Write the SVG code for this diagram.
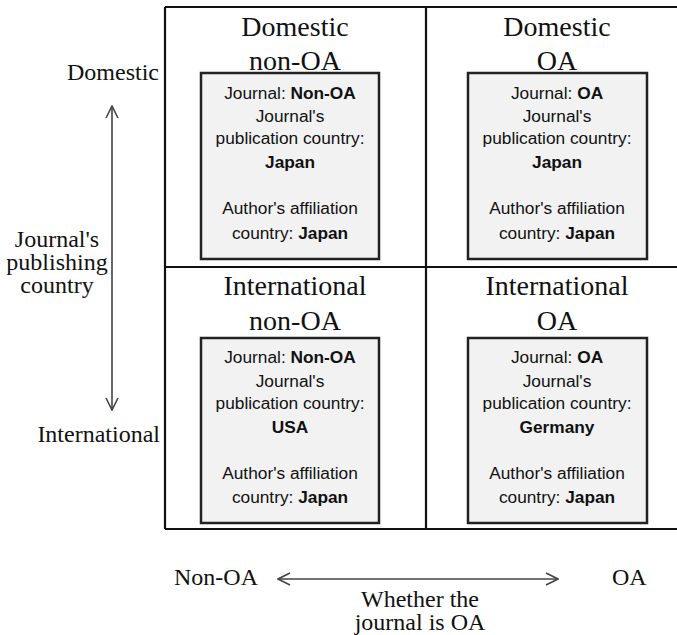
<svg xmlns="http://www.w3.org/2000/svg" width="677" height="635" viewBox="0 0 677 635">
<defs>
<style>
.grid{stroke:#111;stroke-width:2.2;fill:none}
.box{fill:#f2f2f2;stroke:#222;stroke-width:2.5}
.serif{font-family:"Liberation Serif","Times New Roman",serif;fill:#111}
.cell{font-size:28px;text-anchor:middle}
.axis{font-size:24px}
.bt{font-family:"Liberation Sans",Arial,sans-serif;font-size:17.3px;fill:#111;text-anchor:middle}
.b{font-weight:bold}
.arr{stroke:#444;stroke-width:1.6;fill:none}
</style>
<marker id="ah" viewBox="0 0 14 14" refX="13" refY="7" markerWidth="14" markerHeight="14" markerUnits="userSpaceOnUse" orient="auto-start-reverse">
<path d="M1,1 L13,7 L1,13" fill="none" stroke="#444" stroke-width="1.6"/>
</marker>
</defs>
<rect width="677" height="635" fill="#fff"/>
<g id="grid">
<path class="grid" d="M165,7 H677 M165,7 V529 M426,7 V529 M165,267 H677 M165,529 H677"/>
</g>
<g id="connectors">
<line class="arr" x1="112" y1="106" x2="112" y2="410" marker-start="url(#ah)" marker-end="url(#ah)"/>
<line class="arr" x1="278" y1="579" x2="558" y2="579" marker-start="url(#ah)" marker-end="url(#ah)"/>
</g>
<g id="axis-labels" class="serif axis">
<text x="159" y="80" text-anchor="end">Domestic</text>
<text x="160" y="442" text-anchor="end">International</text>
<text x="57" y="247" text-anchor="middle">Journal's</text>
<text x="57" y="270" text-anchor="middle">publishing</text>
<text x="57" y="293" text-anchor="middle">country</text>
<text x="174" y="585">Non-OA</text>
<text x="612" y="585">OA</text>
<text x="420" y="607" text-anchor="middle">Whether the</text>
<text x="420" y="630" text-anchor="middle">journal is OA</text>
</g>
<g id="domestic-non-oa">
<text class="serif cell" x="295" y="36">Domestic</text>
<text class="serif cell" x="295" y="70">non-OA</text>
<rect class="box" x="201" y="73" width="178" height="186"/>
<text class="bt" x="290" y="99">Journal: <tspan class="b">Non-OA</tspan></text>
<text class="bt" x="290" y="122">Journal's</text>
<text class="bt" x="290" y="144">publication country:</text>
<text class="bt b" x="290" y="168">Japan</text>
<text class="bt" x="290" y="214">Author's affiliation</text>
<text class="bt" x="290" y="239">country: <tspan class="b">Japan</tspan></text>
</g>
<g id="domestic-oa">
<text class="serif cell" x="557" y="36">Domestic</text>
<text class="serif cell" x="557" y="70">OA</text>
<rect class="box" x="468" y="73" width="179" height="186"/>
<text class="bt" x="557" y="99">Journal: <tspan class="b">OA</tspan></text>
<text class="bt" x="557" y="122">Journal's</text>
<text class="bt" x="557" y="144">publication country:</text>
<text class="bt b" x="557" y="168">Japan</text>
<text class="bt" x="557" y="214">Author's affiliation</text>
<text class="bt" x="557" y="239">country: <tspan class="b">Japan</tspan></text>
</g>
<g id="international-non-oa">
<text class="serif cell" x="295" y="295">International</text>
<text class="serif cell" x="295" y="330">non-OA</text>
<rect class="box" x="201" y="338" width="178" height="185"/>
<text class="bt" x="290" y="363">Journal: <tspan class="b">Non-OA</tspan></text>
<text class="bt" x="290" y="387">Journal's</text>
<text class="bt" x="290" y="409">publication country:</text>
<text class="bt b" x="290" y="433">USA</text>
<text class="bt" x="290" y="479">Author's affiliation</text>
<text class="bt" x="290" y="503">country: <tspan class="b">Japan</tspan></text>
</g>
<g id="international-oa">
<text class="serif cell" x="557" y="295">International</text>
<text class="serif cell" x="557" y="330">OA</text>
<rect class="box" x="468" y="338" width="179" height="185"/>
<text class="bt" x="557" y="363">Journal: <tspan class="b">OA</tspan></text>
<text class="bt" x="557" y="387">Journal's</text>
<text class="bt" x="557" y="409">publication country:</text>
<text class="bt b" x="557" y="433">Germany</text>
<text class="bt" x="557" y="479">Author's affiliation</text>
<text class="bt" x="557" y="503">country: <tspan class="b">Japan</tspan></text>
</g>
</svg>
